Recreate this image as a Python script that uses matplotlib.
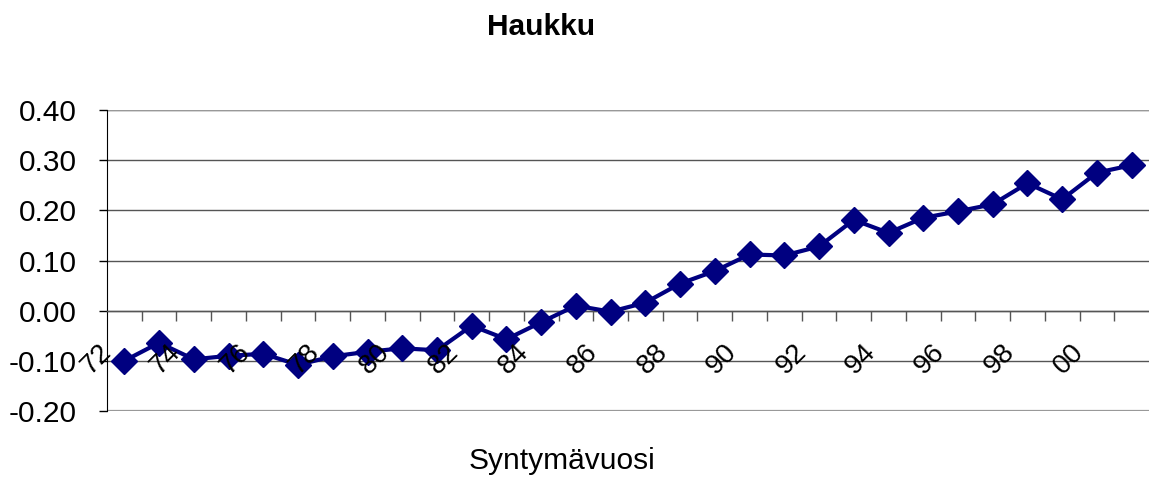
import numpy as np
import matplotlib.pyplot as plt

# データ
years = ["72", "73", "74", "75", "76", "77", "78", "79", "80", "81",
         "82", "83", "84", "85", "86", "87", "88", "89", "90", "91",
         "92", "93", "94", "95", "96", "97", "98", "99", "00", "01"]
haukku = [-0.100, -0.064, -0.097, -0.090, -0.086, -0.108, -0.091, -0.082, -0.075, -0.079,
          -0.030, -0.057, -0.023, 0.010, -0.002, 0.016, 0.054, 0.079, 0.112, 0.110,
          0.128, 0.181, 0.155, 0.185, 0.198, 0.212, 0.254, 0.222, 0.275, 0.290]
yticks = [-0.20, -0.10, 0.00, 0.10, 0.20, 0.30, 0.40]

plt.rcParams['font.family'] = ['Liberation Sans', 'DejaVu Sans']

fig = plt.figure(figsize=(11.49, 4.79), dpi=100)
ax = fig.add_axes([107/1149, 68/479, 1.0 - 107/1149, 301/479])

x = np.arange(len(years))
ax.plot(x, haukku, color='#000080', lw=3, marker='D', ms=13, zorder=3, clip_on=False)

# 軸の範囲
ax.set_xlim(-0.5, len(years) - 0.5)
ax.set_ylim(-0.20, 0.40)

# y軸
ax.set_yticks(yticks)
ax.set_yticklabels([f"{v:.2f}" for v in yticks], fontsize=21.5)
ax.tick_params(axis='y', direction='out', length=6, width=1, pad=16, color='black')
ax.yaxis.grid(True, color='#555555', lw=1)
ax.set_axisbelow(True)

# x軸（0の位置）
ax.spines['bottom'].set_position(('data', 0))
ax.spines['bottom'].set_color('#555555')
ax.spines['bottom'].set_linewidth(1)
ax.set_xticks(np.arange(0.5, len(years) - 0.5, 1))
ax.set_xticklabels([])
ax.tick_params(axis='x', direction='out', length=7, width=1, color='#555555')

# x軸のラベル（2年ごと、45度回転）
for i in range(0, len(years), 2):
    ax.text(i - 0.8, -0.096, years[i], rotation=45, ha='center', va='center',
            fontsize=20, zorder=4)

ax.spines['left'].set_color('black')
ax.spines['right'].set_visible(False)
ax.spines['top'].set_visible(False)

# 枠（上と下）
ax.axhline(0.40, color='#999999', lw=1.6, zorder=1)
ax.axhline(-0.20, color='#999999', lw=1.6, zorder=1)

fig.text(541/1149, 1 - 27/479, "Haukku", fontsize=21.5, fontweight='bold', ha='center', va='center')
fig.text(562/1149, 1 - 461/479, "Syntymävuosi", fontsize=21.5, ha='center', va='center')

fig.savefig("out.png", dpi=100)
